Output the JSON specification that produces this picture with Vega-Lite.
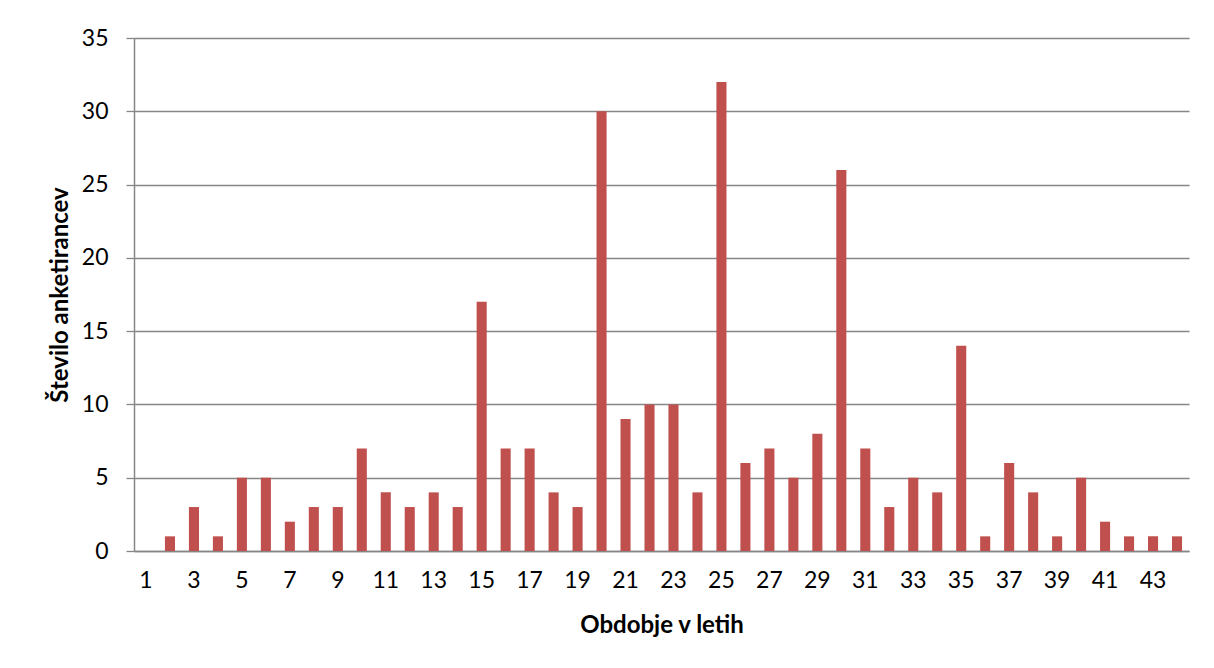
{
  "$schema": "https://vega.github.io/schema/vega-lite/v6.json",
  "width": 1055,
  "height": 513,
  "autosize": {"type": "none"},
  "padding": {"left": 134, "top": 38, "right": 25, "bottom": 117},
  "background": "white",
  "config": {
    "view": {"stroke": null},
    "font": "Lato",
    "axis": {
      "labelFont": "Lato",
      "titleFont": "Lato",
      "labelFontSize": 23,
      "titleFontSize": 24,
      "labelColor": "#000000",
      "titleColor": "#000000",
      "titleFontWeight": "bold",
      "domainColor": "#868686",
      "tickColor": "#868686",
      "gridColor": "#868686",
      "gridOpacity": 1,
      "gridWidth": 1.3,
      "domainWidth": 1.5,
      "tickWidth": 1.3
    }
  },
  "data": {
    "values": [
      {"leto": 1, "st": 0}, {"leto": 2, "st": 1}, {"leto": 3, "st": 3}, {"leto": 4, "st": 1},
      {"leto": 5, "st": 5}, {"leto": 6, "st": 5}, {"leto": 7, "st": 2}, {"leto": 8, "st": 3},
      {"leto": 9, "st": 3}, {"leto": 10, "st": 7}, {"leto": 11, "st": 4}, {"leto": 12, "st": 3},
      {"leto": 13, "st": 4}, {"leto": 14, "st": 3}, {"leto": 15, "st": 17}, {"leto": 16, "st": 7},
      {"leto": 17, "st": 7}, {"leto": 18, "st": 4}, {"leto": 19, "st": 3}, {"leto": 20, "st": 30},
      {"leto": 21, "st": 9}, {"leto": 22, "st": 10}, {"leto": 23, "st": 10}, {"leto": 24, "st": 4},
      {"leto": 25, "st": 32}, {"leto": 26, "st": 6}, {"leto": 27, "st": 7}, {"leto": 28, "st": 5},
      {"leto": 29, "st": 8}, {"leto": 30, "st": 26}, {"leto": 31, "st": 7}, {"leto": 32, "st": 3},
      {"leto": 33, "st": 5}, {"leto": 34, "st": 4}, {"leto": 35, "st": 14}, {"leto": 36, "st": 1},
      {"leto": 37, "st": 6}, {"leto": 38, "st": 4}, {"leto": 39, "st": 1}, {"leto": 40, "st": 5},
      {"leto": 41, "st": 2}, {"leto": 42, "st": 1}, {"leto": 43, "st": 1}, {"leto": 44, "st": 1}
    ]
  },
  "mark": {"type": "bar", "color": "#C0504D"},
  "encoding": {
    "x": {
      "field": "leto",
      "type": "ordinal",
      "title": "Obdobje v letih",
      "scale": {"paddingInner": 0.58, "paddingOuter": 0.29},
      "axis": {
        "labelAngle": 0,
        "values": [1, 3, 5, 7, 9, 11, 13, 15, 17, 19, 21, 23, 25, 27, 29, 31, 33, 35, 37, 39, 41, 43],
        "ticks": false,
        "labelPadding": 18,
        "titlePadding": 21
      }
    },
    "y": {
      "field": "st",
      "type": "quantitative",
      "title": "Število anketirancev",
      "scale": {"domain": [0, 35], "nice": false},
      "axis": {
        "values": [0, 5, 10, 15, 20, 25, 30, 35],
        "tickSize": 8,
        "labelPadding": 18,
        "titlePadding": 9
      }
    }
  }
}
